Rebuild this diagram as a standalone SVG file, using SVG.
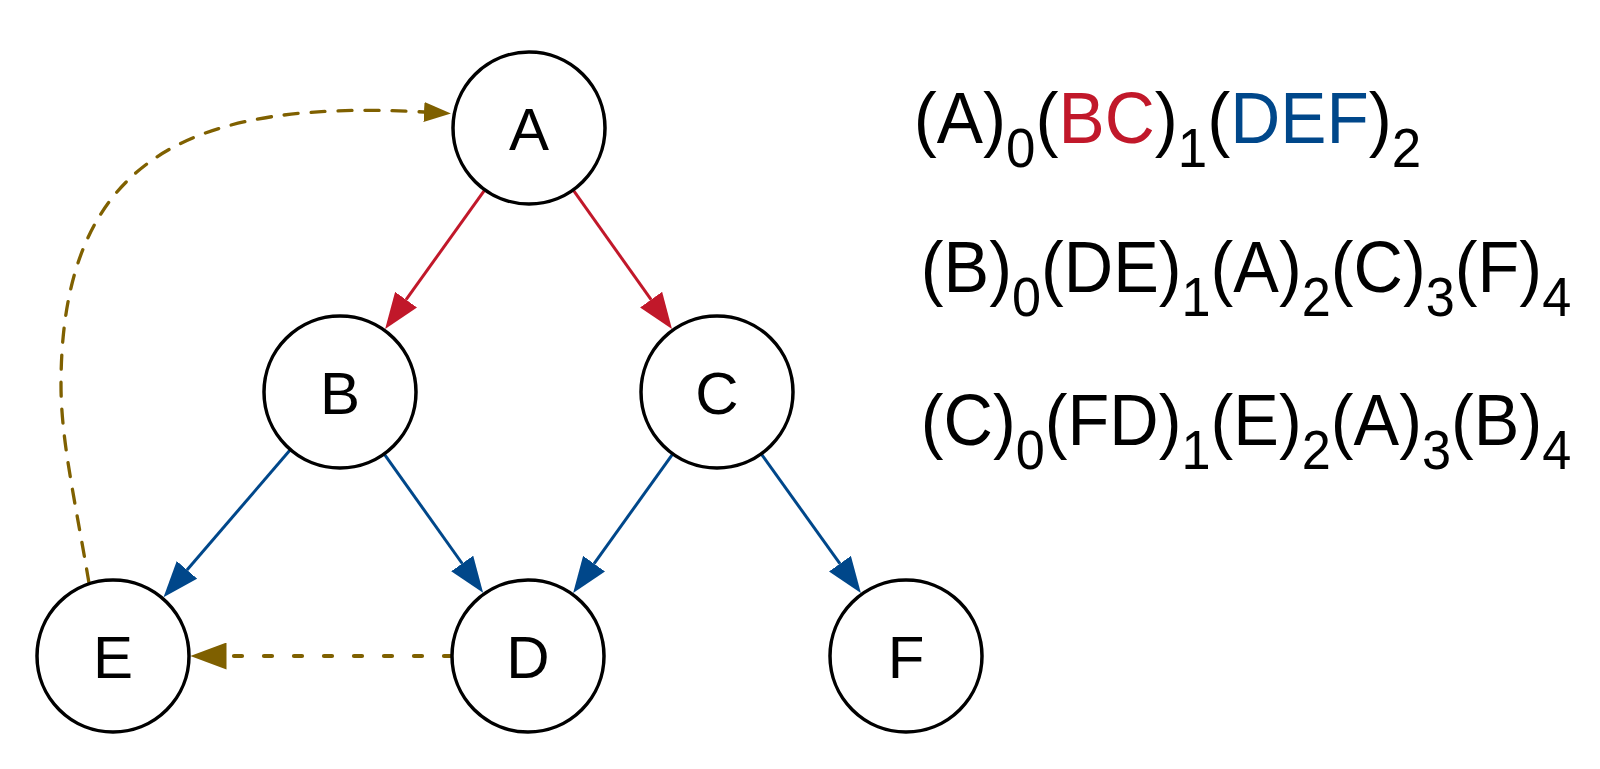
<svg xmlns="http://www.w3.org/2000/svg" width="1600" height="769" viewBox="0 0 1600 769">
<style>
.node circle{fill:#ffffff;stroke:#000000;stroke-width:3.5}
.node text{font-family:"Liberation Sans",Arial,Helvetica,sans-serif;font-size:60px;fill:#000000;text-anchor:middle}
.red{stroke:#c1182a;stroke-width:3;fill:none}
.blue{stroke:#00478a;stroke-width:3;fill:none}
.dashA{stroke:#7f6000;stroke-width:3.3;fill:none;stroke-dasharray:14 13;stroke-linecap:round}
.dashD{stroke:#7f6000;stroke-width:4.2;fill:none;stroke-dasharray:8 22;stroke-linecap:round}
.seq{font-family:"Liberation Sans",Arial,Helvetica,sans-serif;font-size:72px;fill:#000000}
.sub{font-size:55px}
.r{fill:#c1182a}
.b{fill:#00478a}
</style>
<defs>
<marker id="arRed" markerUnits="userSpaceOnUse" markerWidth="36" markerHeight="27" refX="0" refY="13.5" orient="auto" viewBox="0 0 36 27"><path d="M0,0 L36,13.5 L0,27 z" fill="#c1182a"/></marker>
<marker id="arBlue" markerUnits="userSpaceOnUse" markerWidth="36" markerHeight="27" refX="0" refY="13.5" orient="auto" viewBox="0 0 36 27"><path d="M0,0 L36,13.5 L0,27 z" fill="#00478a"/></marker>
<marker id="arBrown" markerUnits="userSpaceOnUse" markerWidth="36" markerHeight="27" refX="0" refY="13.5" orient="auto" viewBox="0 0 36 27"><path d="M0,0 L36,13.5 L0,27 z" fill="#7f6000"/></marker>
<marker id="arBrownS" markerUnits="userSpaceOnUse" markerWidth="27" markerHeight="20" refX="0" refY="10" orient="auto" viewBox="0 0 27 20"><path d="M0,0 L27,10 L0,20 z" fill="#7f6000"/></marker>
</defs>
<rect width="1600" height="769" fill="#ffffff"/>
<g id="connectors">
<line class="red" x1="484.8" y1="189.8" x2="406.1" y2="299.7" marker-end="url(#arRed)"/>
<line class="red" x1="573.1" y1="189.9" x2="651.1" y2="299.6" marker-end="url(#arRed)"/>
<line class="blue" x1="290.5" y1="449.6" x2="187.0" y2="569.9" marker-end="url(#arBlue)"/>
<line class="blue" x1="384.1" y1="453.9" x2="462.2" y2="563.5" marker-end="url(#arBlue)"/>
<line class="blue" x1="672.8" y1="453.8" x2="594.1" y2="563.7" marker-end="url(#arBlue)"/>
<line class="blue" x1="761.2" y1="453.8" x2="839.9" y2="563.7" marker-end="url(#arBlue)"/>
<line class="dashD" x1="452" y1="656" x2="226.5" y2="656" marker-end="url(#arBrown)"/>
<path class="dashA" d="M89,583 C75,500 61,440 61,385 C61,150 200,100 424,112" marker-end="url(#arBrownS)"/>
</g>
<g id="node-A" class="node"><circle cx="529" cy="128" r="76"/><text x="529" y="149.5">A</text></g>
<g id="node-B" class="node"><circle cx="340" cy="392" r="76"/><text x="340" y="413.5">B</text></g>
<g id="node-C" class="node"><circle cx="717" cy="392" r="76"/><text x="717" y="413.5">C</text></g>
<g id="node-D" class="node"><circle cx="528" cy="656" r="76"/><text x="528" y="677.5">D</text></g>
<g id="node-E" class="node"><circle cx="113" cy="656" r="76"/><text x="113" y="677.5">E</text></g>
<g id="node-F" class="node"><circle cx="906" cy="656" r="76"/><text x="906" y="677.5">F</text></g>
<g id="sequences">
<text class="seq" transform="translate(918,0) scale(0.962,1)" x="-4.5" y="143">(A)<tspan class="sub" dy="24">0</tspan><tspan dy="-24">(</tspan><tspan class="r">BC</tspan>)<tspan class="sub" dy="24">1</tspan><tspan dy="-24">(</tspan><tspan class="b">DEF</tspan>)<tspan class="sub" dy="24">2</tspan></text>
<text class="seq" transform="translate(925,0) scale(0.95,1)" x="-4.5" y="292">(B)<tspan class="sub" dy="24">0</tspan><tspan dy="-24">(DE)</tspan><tspan class="sub" dy="24">1</tspan><tspan dy="-24">(A)</tspan><tspan class="sub" dy="24">2</tspan><tspan dy="-24">(C)</tspan><tspan class="sub" dy="24">3</tspan><tspan dy="-24">(F)</tspan><tspan class="sub" dy="24">4</tspan></text>
<text class="seq" transform="translate(925,0) scale(0.95,1)" x="-4.5" y="445">(C)<tspan class="sub" dy="24">0</tspan><tspan dy="-24">(FD)</tspan><tspan class="sub" dy="24">1</tspan><tspan dy="-24">(E)</tspan><tspan class="sub" dy="24">2</tspan><tspan dy="-24">(A)</tspan><tspan class="sub" dy="24">3</tspan><tspan dy="-24">(B)</tspan><tspan class="sub" dy="24">4</tspan></text>
</g>
</svg>
